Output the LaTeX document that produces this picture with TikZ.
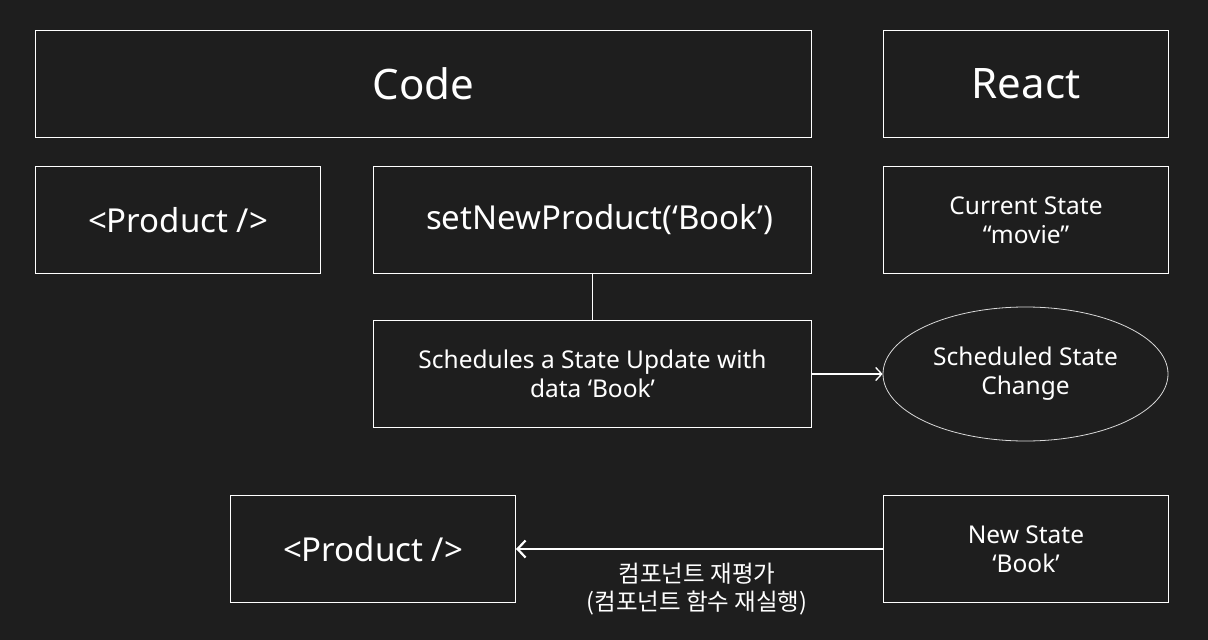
\documentclass[tikz,border=0pt]{standalone}
\usepackage{fontspec}
\setmainfont{Noto Sans}
\newfontfamily\kofont{Noto Sans CJK KR}
\usetikzlibrary{shapes.geometric,arrows.meta}
\definecolor{canvas}{HTML}{1E1E1E}
\begin{document}
\begin{tikzpicture}[x=1pt,y=-1pt,
    box/.style={draw=white, line width=1pt, anchor=north west, minimum width=285pt,
      minimum height=107pt, inner sep=0pt, text=white, align=center,
      font=\fontsize{24.5}{29}\selectfont},
    big/.style={font=\fontsize{33}{39}\selectfont},
    title/.style={font=\fontsize{42}{48}\selectfont}]
    \fill[canvas] (0,0) rectangle (1208,640);
    \node [box, title, minimum width=776pt] (code) at (35,30) {Code};
    \node [box, title] (react) at (883,30) {React};
    \node [box, big] (product) at (35,166) {<Product />};
    \node [box, big, minimum width=438pt] (setnew) at (373,166) {\hspace*{14pt}setNewProduct(‘Book’)};
    \node [box] (current) at (883,166) {Current State\\“movie”};
    \node [box, minimum width=438pt] (schedule) at (373,320) {Schedules a State Update with\\data ‘Book’};
    \node [draw=white!85!black, line width=0.8pt, ellipse, minimum width=285pt,
      minimum height=134pt, inner sep=0pt, text=white, align=center,
      font=\fontsize{24.5}{29}\selectfont] (change) at (1025.5,374) {Scheduled State\\Change};
    \node [box, big] (rerender) at (230,495) {<Product />};
    \node [box] (newstate) at (883,495) {New State\\‘Book’};
    \node [text=white, align=center, font=\kofont\fontsize{23.5}{28}\selectfont]
      (rerun) at (697,589) {컴포넌트 재평가\\(컴포넌트 함수 재실행)};
    \draw [white, line width=1pt] (setnew.south) -- (schedule.north);
    \draw [white, line width=1.3pt, -{Straight Barb[length=6pt,width=13pt]}] (schedule.east) -- (change.west);
    \draw [white, line width=2.2pt, -{Straight Barb[length=8pt,width=17pt]}] (newstate.west) -- (rerender.east);
\end{tikzpicture}
\end{document}
